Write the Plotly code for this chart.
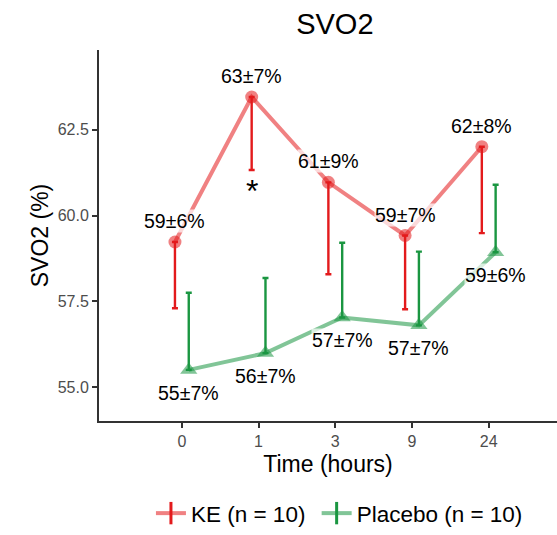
import plotly.graph_objects as go

times = ["0", "1", "3", "9", "24"]
ke_mean = [59.23, 63.46, 60.97, 59.42, 62.01]
ke_err = [1.93, 2.13, 2.68, 2.15, 2.52]
ke_labels = ["59±6%", "63±7%", "61±9%", "59±7%", "62±8%"]
pl_mean = [55.50, 55.99, 57.03, 56.80, 58.93]
pl_err = [2.25, 2.19, 2.18, 2.15, 1.97]
pl_labels = ["55±7%", "56±7%", "57±7%", "57±7%", "59±6%"]
signif = ["", "*", "", "", ""]

RED = "#E31A1C"
GREEN = "#1A9641"
RED_A = "rgba(227,26,28,0.55)"
GREEN_A = "rgba(26,150,65,0.55)"
FONT = "Liberation Sans, Arial, sans-serif"
dodge = 0.09

pos = list(range(len(times)))
x_ke = [p - dodge for p in pos]
x_pl = [p + dodge for p in pos]

fig = go.Figure()

fig.add_trace(go.Scatter(x=x_ke, y=ke_mean, mode="lines+markers",
                         line=dict(color=RED_A, width=4),
                         marker=dict(color=RED_A, size=13, symbol="circle"),
                         showlegend=False, hoverinfo="skip"))
fig.add_trace(go.Scatter(x=x_pl, y=pl_mean, mode="lines+markers",
                         line=dict(color=GREEN_A, width=4),
                         marker=dict(color=GREEN_A, size=15, symbol="triangle-up"),
                         showlegend=False, hoverinfo="skip"))
fig.add_trace(go.Scatter(x=x_ke, y=ke_mean, mode="markers",
                         marker=dict(color="rgba(0,0,0,0)", size=1),
                         error_y=dict(type="data", symmetric=False,
                                      array=[0] * len(ke_err), arrayminus=ke_err,
                                      color=RED, thickness=2.4, width=3),
                         showlegend=False, hoverinfo="skip"))
fig.add_trace(go.Scatter(x=x_pl, y=pl_mean, mode="markers",
                         marker=dict(color="rgba(0,0,0,0)", size=1),
                         error_y=dict(type="data", symmetric=False,
                                      array=pl_err, arrayminus=[0] * len(pl_err),
                                      color=GREEN, thickness=2.4, width=3),
                         showlegend=False, hoverinfo="skip"))

fig.add_trace(go.Scatter(x=[None], y=[None], mode="lines+markers", name="KE (n = 10) ",
                         line=dict(color=RED_A, width=4),
                         marker=dict(symbol="line-ns", size=24, color=RED,
                                     line=dict(color=RED, width=3))))
fig.add_trace(go.Scatter(x=[None], y=[None], mode="lines+markers", name="Placebo (n = 10)",
                         line=dict(color=GREEN_A, width=4),
                         marker=dict(symbol="line-ns", size=24, color=GREEN,
                                     line=dict(color=GREEN, width=3))))

annotations = []
for xi, yi, t in zip(x_ke, ke_mean, ke_labels):
    annotations.append(dict(x=xi, y=yi, text=t, showarrow=False, yshift=21,
                            font=dict(size=19.5, color="black", family=FONT),
                            bgcolor="rgba(255,255,255,0.7)", borderpad=0))
for xi, yi, t in zip(x_pl, pl_mean, pl_labels):
    annotations.append(dict(x=xi, y=yi, text=t, showarrow=False, yshift=-23,
                            font=dict(size=19.5, color="black", family=FONT),
                            bgcolor="rgba(255,255,255,0.7)", borderpad=0))
for xi, yi, e, s in zip(x_ke, ke_mean, ke_err, signif):
    if s:
        annotations.append(dict(x=xi, y=yi - e, text=s, showarrow=False,
                                yanchor="top", yshift=-1,
                                font=dict(size=32, color="black", family=FONT)))

fig.update_layout(
    width=557, height=535,
    margin=dict(l=99, r=0, t=50, b=114),
    paper_bgcolor="white", plot_bgcolor="white",
    title=dict(text="SVO2", x=0.515, xref="paper", xanchor="center",
               y=0.955, yref="container", yanchor="middle",
               font=dict(size=29, color="black", family=FONT)),
    font=dict(family=FONT),
    annotations=annotations,
    legend=dict(orientation="h", x=0.525, xanchor="center", xref="paper",
                y=15, yref="container", yanchor="middle",
                font=dict(size=22.5, color="black", family=FONT),
                itemwidth=30, tracegroupgap=0),
    xaxis=dict(range=[-1.08, 4.89], tickvals=pos, ticktext=times,
               showgrid=False, zeroline=False, showline=True,
               linecolor="#333333", linewidth=2,
               ticks="outside", ticklen=5, tickcolor="#333333", tickwidth=1.5,
               tickfont=dict(size=16, color="#4D4D4D", family=FONT),
               title=dict(text="Time (hours)", standoff=7,
                          font=dict(size=23, color="black", family=FONT))),
    yaxis=dict(range=[54.01, 64.83], tickvals=[55.0, 57.5, 60.0, 62.5],
               ticktext=["55.0", "57.5", "60.0", "62.5"],
               showgrid=False, zeroline=False, showline=True,
               linecolor="#333333", linewidth=2,
               ticks="outside", ticklen=5, tickcolor="#333333", tickwidth=1.5,
               tickfont=dict(size=16, color="#4D4D4D", family=FONT),
               title=dict(text="SVO2 (%)", standoff=3,
                          font=dict(size=23, color="black", family=FONT))),
)

fig.write_html("out.html")
